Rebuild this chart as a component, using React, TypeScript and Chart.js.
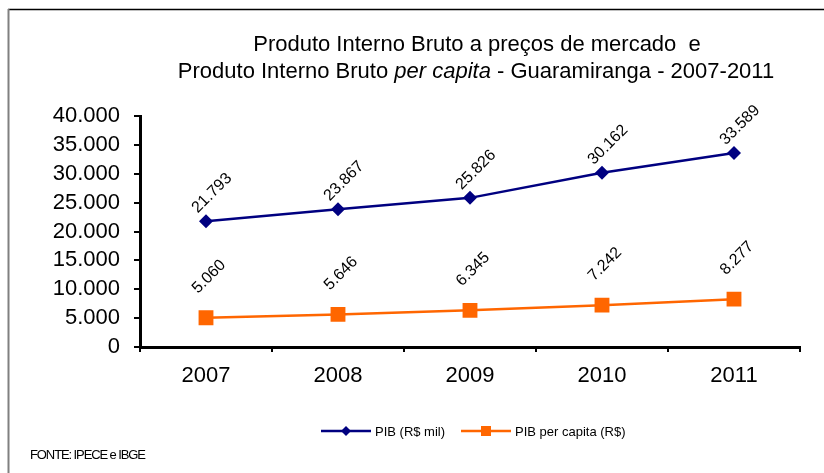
import React, { useEffect, useRef } from "react";
import { Chart, registerables } from "chart.js";

Chart.register(...registerables);

const categories = ["2007", "2008", "2009", "2010", "2011"];
const pibValues = [21793, 23867, 25826, 30162, 33589];
const pibPerCapitaValues = [5060, 5646, 6345, 7242, 8277];
const seriesNames = ["PIB (R$ mil)", "PIB per capita (R$)"];
const titleLine1 = "Produto Interno Bruto a preços de mercado  e";
const titleLine2Parts = [
  { text: "Produto Interno Bruto ", italic: false },
  { text: "per capita", italic: true },
  { text: " - Guaramiranga - 2007-2011", italic: false },
];
const sourceText = "FONTE: IPECE e IBGE";

const BLUE = "#000080";
const ORANGE = "#FF6600";
const FONT = "'Liberation Sans', Arial, sans-serif";

const fmt = (v: number) =>
  Math.round(v)
    .toString()
    .replace(/\B(?=(\d{3})+(?!\d))/g, ".");

const decorPlugin = {
  id: "decor",
  beforeDraw(chart: any) {
    const ctx = chart.ctx;
    ctx.save();
    ctx.fillStyle = "#ffffff";
    ctx.fillRect(0, 0, chart.width, chart.height);
    ctx.restore();
  },
  afterDraw(chart: any) {
    const ctx = chart.ctx;
    ctx.save();
    // frame
    ctx.strokeStyle = "#000000";
    ctx.lineWidth = 1.5;
    ctx.beginPath();
    ctx.moveTo(8, 9.5);
    ctx.lineTo(chart.width, 9.5);
    ctx.stroke();
    ctx.strokeStyle = "#808080";
    ctx.lineWidth = 2;
    ctx.beginPath();
    ctx.moveTo(8.5, 9);
    ctx.lineTo(8.5, chart.height);
    ctx.stroke();

    // title
    const TS = 22;
    ctx.fillStyle = "#000000";
    ctx.textBaseline = "middle";
    ctx.font = `${TS}px ${FONT}`;
    ctx.textAlign = "center";
    ctx.fillText(titleLine1, 477, 45);
    ctx.textAlign = "left";
    let total = 0;
    const widths = titleLine2Parts.map((p) => {
      ctx.font = `${p.italic ? "italic " : ""}${TS}px ${FONT}`;
      const w = ctx.measureText(p.text).width;
      total += w;
      return w;
    });
    let x = 476 - total / 2;
    titleLine2Parts.forEach((p, i) => {
      ctx.font = `${p.italic ? "italic " : ""}${TS}px ${FONT}`;
      ctx.fillText(p.text, x, 72);
      x += widths[i];
    });

    // data labels
    ctx.font = `16px ${FONT}`;
    ctx.textAlign = "center";
    ctx.textBaseline = "middle";
    const offsets = [
      { dx: 6, dy: -28 },
      { dx: 3, dy: -41 },
    ];
    chart.data.datasets.forEach((ds: any, di: number) => {
      const meta = chart.getDatasetMeta(di);
      meta.data.forEach((pt: any, i: number) => {
        ctx.save();
        ctx.translate(pt.x + offsets[di].dx, pt.y + offsets[di].dy);
        ctx.rotate(-Math.PI / 4);
        ctx.fillText(fmt(ds.data[i]), 0, 0);
        ctx.restore();
      });
    });

    // legend
    const ly = 431;
    ctx.lineWidth = 2.5;
    ctx.strokeStyle = BLUE;
    ctx.beginPath();
    ctx.moveTo(321, ly);
    ctx.lineTo(371, ly);
    ctx.stroke();
    ctx.fillStyle = BLUE;
    ctx.beginPath();
    ctx.moveTo(346, ly - 5);
    ctx.lineTo(351, ly);
    ctx.lineTo(346, ly + 5);
    ctx.lineTo(341, ly);
    ctx.closePath();
    ctx.fill();

    ctx.strokeStyle = ORANGE;
    ctx.beginPath();
    ctx.moveTo(461, ly);
    ctx.lineTo(511, ly);
    ctx.stroke();
    ctx.fillStyle = ORANGE;
    ctx.fillRect(481, ly - 5, 10, 10);

    ctx.fillStyle = "#000000";
    ctx.font = `13px ${FONT}`;
    ctx.textAlign = "left";
    ctx.textBaseline = "middle";
    ctx.fillText(seriesNames[0], 375, ly + 1);
    ctx.fillText(seriesNames[1], 515, ly + 1);

    // source
    ctx.font = `13px ${FONT}`;
    (ctx as any).letterSpacing = "-1.1px";
    ctx.fillText(sourceText, 30, 455);
    (ctx as any).letterSpacing = "0px";
    ctx.restore();
  },
};

export default function App() {
  const ref = useRef<HTMLCanvasElement | null>(null);
  useEffect(() => {
    if (!ref.current) return;
    const chart = new Chart(ref.current, {
      type: "line",
      data: {
        labels: categories,
        datasets: [
          {
            label: seriesNames[0],
            data: pibValues,
            borderColor: BLUE,
            backgroundColor: BLUE,
            borderWidth: 2.5,
            pointStyle: "rectRot",
            pointRadius: 7,
            pointBorderWidth: 0,
            pointBackgroundColor: BLUE,
            tension: 0,
          },
          {
            label: seriesNames[1],
            data: pibPerCapitaValues,
            borderColor: ORANGE,
            backgroundColor: ORANGE,
            borderWidth: 2.5,
            pointStyle: "rect",
            pointRadius: 10.5,
            pointBorderWidth: 0,
            pointBackgroundColor: ORANGE,
            tension: 0,
          },
        ],
      },
      options: {
        animation: false,
        responsive: false,
        maintainAspectRatio: false,
        devicePixelRatio: 1,
        layout: { padding: { top: 116, left: 0, right: 24, bottom: 86 } },
        plugins: {
          legend: { display: false },
          title: { display: false },
          tooltip: { enabled: false },
        },
        scales: {
          x: {
            offset: true,
            afterFit: (s: any) => {
              s.height = 40;
            },
            grid: {
              offset: true,
              drawOnChartArea: false,
              drawTicks: true,
              tickLength: 5,
              color: "#000000",
              lineWidth: 2,
            },
            border: { display: true, color: "#000000", width: 3 },
            ticks: {
              color: "#000000",
              font: { family: FONT, size: 22 },
              padding: 11,
              maxRotation: 0,
              autoSkip: false,
            },
          },
          y: {
            min: 0,
            max: 40000,
            afterFit: (s: any) => {
              s.width = 140;
            },
            grid: {
              drawOnChartArea: false,
              drawTicks: true,
              tickLength: 6,
              color: "#000000",
              lineWidth: 2,
            },
            border: { display: true, color: "#000000", width: 3 },
            ticks: {
              stepSize: 5000,
              autoSkip: false,
              color: "#000000",
              font: { family: FONT, size: 22 },
              padding: 14,
              callback: (v: any) => fmt(Number(v)),
            },
          },
        },
      },
      plugins: [decorPlugin],
    });
    return () => chart.destroy();
  }, []);
  return (
    <div style={{ position: "fixed", left: 0, top: 0, width: 824, height: 473 }}>
      <canvas ref={ref} width={824} height={473} style={{ width: 824, height: 473, display: "block" }} />
    </div>
  );
}
